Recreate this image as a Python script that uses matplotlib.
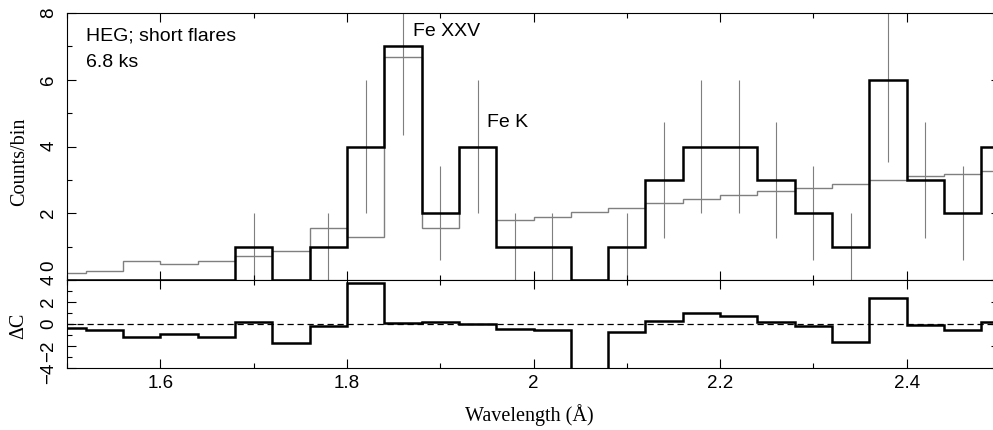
'''HEG short-flare spectrum around the Fe K lines, with C-stat residuals.'''

import numpy as np
import matplotlib
matplotlib.use('Agg')
import matplotlib.pyplot as plt
from matplotlib.ticker import MultipleLocator, FuncFormatter
from matplotlib import transforms

plt.rcParams['font.family'] = ['Liberation Sans', 'DejaVu Sans']

# bin edges (Angstrom)
edges = [1.48, 1.52, 1.56, 1.60, 1.64, 1.68, 1.72, 1.76, 1.80, 1.84, 1.88,
         1.92, 1.96, 2.00, 2.04, 2.08, 2.12, 2.16, 2.20, 2.24, 2.28, 2.32,
         2.36, 2.40, 2.44, 2.48, 2.52]
# observed counts per bin
counts = [0, 0, 0, 0, 0, 1, 0, 1, 4, 7, 2, 4, 1, 1, 0, 1, 3, 4, 4, 3, 2, 1,
          6, 3, 2, 4]
# folded model per bin
model = [0.22, 0.27, 0.57, 0.47, 0.57, 0.72, 0.87, 1.56, 1.28, 6.67, 1.55,
         3.98, 1.79, 1.90, 2.04, 2.17, 2.31, 2.42, 2.54, 2.66, 2.77, 2.89,
         3.00, 3.12, 3.19, 3.27]
# delta C residuals per bin
resid = [-0.40, -0.54, -1.14, -0.90, -1.14, 0.15, -1.74, -0.20, 3.70, 0.05,
         0.15, 0.0, -0.45, -0.54, -5.0, -0.75, 0.24, 0.96, 0.75, 0.15, -0.20,
         -1.65, 2.35, -0.05, -0.50, 0.20]

edges = np.array(edges)
counts = np.array(counts, dtype=float)
centers = 0.5 * (edges[:-1] + edges[1:])
has = counts > 0
errs = np.sqrt(counts)

W, H = 993, 431
fig = plt.figure(figsize=(W / 100, H / 100), dpi=100)
ax1 = fig.add_axes([67 / W, 1 - 281 / H, 933 / W, 267 / H])
ax2 = fig.add_axes([67 / W, 1 - 369 / H, 933 / W, 88 / H])

grey = '#7f7f7f'

# top panel
ax1.errorbar(centers[has], counts[has], yerr=errs[has], fmt='none',
             ecolor=grey, elinewidth=0.8, capsize=0, zorder=1)
ax1.stairs(model, edges, color=grey, lw=1.0, zorder=2)
ax1.stairs(counts, edges, color='black', lw=1.8, zorder=3)
ax1.set_ylim(0, 8)

ax1.text(1.5204, 7.22, 'HEG; short flares', fontsize=14)
ax1.text(1.5204, 6.41, '6.8 ks', fontsize=14)
ax1.text(1.871, 7.34, 'Fe XXV', fontsize=14)
ax1.text(1.950, 4.60, 'Fe K', fontsize=14)

# bottom panel
ax2.stairs(resid, edges, color='black', lw=1.8, zorder=3)
ax2.axhline(0, color='black', ls=(0, (5, 3)), lw=0.9, zorder=2)
ax2.set_ylim(-4, 4)

for ax in (ax1, ax2):
    ax.set_xlim(1.5, 2.5)
    ax.xaxis.set_major_locator(MultipleLocator(0.2))
    ax.xaxis.set_minor_locator(MultipleLocator(0.1))
    ax.yaxis.set_major_locator(MultipleLocator(2))
    ax.yaxis.set_minor_locator(MultipleLocator(1))
    ax.tick_params(which='both', direction='in', top=True, right=True,
                   width=0.8, labelsize=13.5)
    ax.tick_params(which='major', length=6.5)
    ax.tick_params(which='minor', length=3.3)
    ax.tick_params(axis='y', labelrotation=90, pad=7)
    ax.tick_params(axis='x', pad=4)
    for s in ax.spines.values():
        s.set_linewidth(0.8)

ax1.tick_params(axis='x', labelbottom=False)
ax1.yaxis.set_major_formatter(FuncFormatter(lambda v, p: '' if v == 0 else f'{v:g}'))
ax2.xaxis.set_major_formatter(FuncFormatter(lambda v, p: f'{v:g}'.replace('-', '\u2212')))
ax2.yaxis.set_major_formatter(FuncFormatter(lambda v, p: f'{v:g}'.replace('-', '\u2212')))

# the "0" of the top panel sits above the shared border
zero_tr = transforms.offset_copy(ax1.get_yaxis_transform(), fig=fig,
                                 x=-7, y=7, units='points')
ax1.text(0, 0, '0', transform=zero_tr, rotation=90, ha='right', va='bottom',
         fontsize=13.5)

serif = ['Liberation Serif', 'DejaVu Serif']
ax1.set_ylabel('Counts/bin', family=serif, fontsize=14.5)
ax1.yaxis.set_label_coords(-0.041, 0.446)
ax2.set_ylabel('\u0394C', family=serif, fontsize=14.5)
ax2.yaxis.set_label_coords(-0.041, 0.49)
ax2.set_xlabel('Wavelength (\u00c5)', family=serif, fontsize=14.5)
ax2.xaxis.set_label_coords(0.495, -0.40)

fig.savefig('out.png', dpi=100)
